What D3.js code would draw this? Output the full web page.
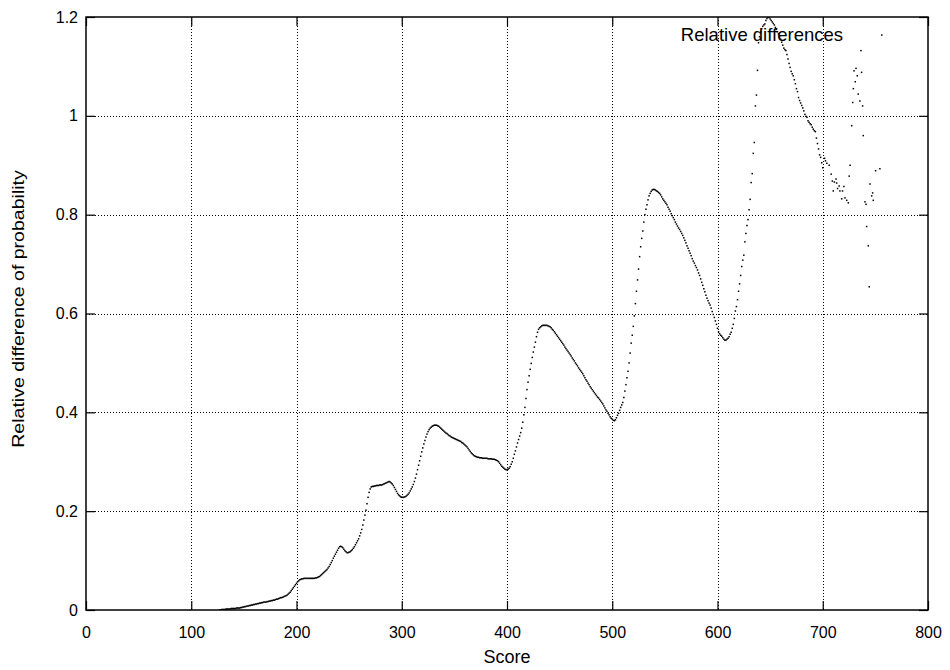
<!DOCTYPE html>
<meta charset="utf-8">
<style>

body {
  margin: 0;
  background: #fff;
}

svg {
  display: block;
  font-family: "Liberation Sans", Arial, sans-serif;
}

.grid line {
  stroke: #000;
  stroke-width: 1;
  stroke-dasharray: 1,2;
  shape-rendering: crispEdges;
}

.axis path {
  display: none;
}

.axis line {
  stroke: #000;
  stroke-width: 1.2;
}

.dot {
  fill: #000;
}

</style>
<svg width="950" height="670"></svg>
<script src="https://d3js.org/d3.v7.min.js"></script>
<script>

// one value per integer score, starting at firstScore
var firstScore = 127;
var values = [
  0.000,0.000,0.001,0.001,0.001,0.001,0.002,0.002,0.002,0.002,0.002,0.003,0.003,0.003,0.003,0.003,0.004,0.004,0.004,0.004,
  0.005,0.005,0.006,0.006,0.007,0.007,0.008,0.008,0.009,0.009,0.010,0.010,0.011,0.011,0.012,0.012,0.013,0.013,0.014,0.014,
  0.015,0.015,0.016,0.016,0.016,0.017,0.017,0.018,0.018,0.019,0.019,0.020,0.020,0.021,0.022,0.022,0.023,0.024,0.025,0.025,
  0.026,0.027,0.028,0.029,0.030,0.032,0.034,0.036,0.039,0.042,0.045,0.048,0.051,0.054,0.057,0.059,0.061,0.062,0.063,0.063,
  0.064,0.064,0.064,0.064,0.064,0.064,0.064,0.064,0.064,0.064,0.064,0.065,0.065,0.066,0.067,0.068,0.070,0.072,0.074,0.076,
  0.078,0.080,0.082,0.085,0.088,0.092,0.096,0.100,0.105,0.109,0.113,0.117,0.121,0.125,0.128,0.129,0.128,0.126,0.123,0.120,
  0.118,0.116,0.116,0.117,0.118,0.120,0.122,0.125,0.128,0.132,0.136,0.140,0.144,0.150,0.156,0.163,0.172,0.182,0.192,0.202,
  0.215,0.228,0.238,0.245,0.249,0.250,0.250,0.251,0.251,0.252,0.252,0.252,0.253,0.253,0.253,0.254,0.255,0.256,0.257,0.258,
  0.259,0.260,0.259,0.257,0.255,0.252,0.248,0.244,0.240,0.236,0.233,0.231,0.229,0.228,0.228,0.228,0.229,0.230,0.232,0.234,
  0.237,0.241,0.245,0.249,0.254,0.260,0.267,0.275,0.284,0.293,0.302,0.311,0.320,0.328,0.336,0.343,0.350,0.356,0.361,0.365,
  0.368,0.370,0.372,0.373,0.374,0.374,0.374,0.373,0.372,0.370,0.368,0.366,0.364,0.362,0.360,0.358,0.357,0.355,0.353,0.352,
  0.350,0.349,0.348,0.347,0.346,0.345,0.344,0.343,0.342,0.341,0.339,0.338,0.336,0.334,0.332,0.330,0.327,0.324,0.321,0.318,
  0.316,0.314,0.312,0.311,0.310,0.309,0.309,0.308,0.308,0.308,0.307,0.307,0.307,0.307,0.307,0.306,0.306,0.306,0.306,0.305,
  0.305,0.305,0.304,0.303,0.302,0.300,0.297,0.294,0.291,0.289,0.287,0.285,0.284,0.284,0.285,0.287,0.290,0.295,0.300,0.307,
  0.315,0.322,0.330,0.338,0.345,0.352,0.359,0.368,0.380,0.395,0.410,0.428,0.446,0.461,0.474,0.487,0.499,0.511,0.522,0.532,
  0.542,0.553,0.562,0.568,0.571,0.573,0.575,0.576,0.576,0.576,0.576,0.576,0.575,0.574,0.573,0.571,0.568,0.566,0.563,0.560,
  0.557,0.554,0.551,0.548,0.545,0.542,0.539,0.536,0.532,0.529,0.526,0.523,0.520,0.517,0.514,0.510,0.507,0.504,0.500,0.497,
  0.494,0.490,0.487,0.484,0.481,0.478,0.474,0.470,0.466,0.463,0.459,0.456,0.452,0.449,0.446,0.443,0.440,0.437,0.434,0.431,
  0.429,0.426,0.423,0.420,0.417,0.413,0.409,0.405,0.402,0.398,0.395,0.391,0.388,0.386,0.384,0.383,0.385,0.389,0.394,0.398,
  0.404,0.410,0.415,0.420,0.430,0.443,0.456,0.470,0.483,0.500,0.520,0.540,0.556,0.574,0.595,0.620,0.645,0.668,0.690,0.715,
  0.735,0.752,0.767,0.785,0.800,0.811,0.820,0.830,0.838,0.843,0.847,0.850,0.851,0.851,0.850,0.848,0.847,0.845,0.843,0.840,
  0.836,0.832,0.829,0.826,0.823,0.820,0.815,0.811,0.807,0.802,0.798,0.794,0.790,0.785,0.781,0.777,0.773,0.770,0.766,0.762,
  0.758,0.753,0.748,0.743,0.737,0.732,0.727,0.722,0.717,0.711,0.706,0.702,0.697,0.693,0.688,0.682,0.677,0.670,0.663,0.657,
  0.650,0.644,0.637,0.631,0.626,0.621,0.617,0.611,0.604,0.598,0.592,0.585,0.578,0.570,0.563,0.559,0.556,0.554,0.551,0.548,
  0.546,0.546,0.548,0.550,0.553,0.558,0.562,0.570,0.578,0.590,0.605,0.614,0.628,0.645,0.660,0.677,0.695,0.708,0.718,0.745,
  0.762,0.778,0.790,0.810,0.831,0.865,0.883,0.924,0.946,1.020,1.042,1.092,1.148,1.160,1.170,1.176,1.181,1.184,1.186,1.193,
  1.197,1.200,1.199,1.196,1.193,1.190,1.187,1.184,1.179,1.175,1.170,1.166,1.160,1.155,1.149,1.143,1.137,1.134,1.132,1.124,
  1.115,1.106,1.098,1.090,1.085,1.081,1.073,1.065,1.055,1.049,1.037,1.031,1.026,1.021,1.016,1.010,1.003,0.999,0.997,0.990,
  0.987,0.984,0.982,0.977,0.973,0.970,0.968,0.955,0.944,0.933,0.921,0.916,0.905,0.895
];

// the noisy end of the curve, read point by point
var tailScores = [
  701.7,702.6,703.9,706.1,708.0,709.1,710.0,711.0,712.6,713.2,714.1,715.6,716.3,718.0,718.8,720.1,721.1,722.8,724.3,725.1,
  726.0,727.5,728.5,729.1,729.7,730.9,731.6,732.8,733.7,735.3,736.3,736.9,737.9,738.5,740.1,741.1,741.7,743.3,744.2,744.9,
  746.5,747.4,748.0,750.2,754.3
];
var tailValues = [
  0.914,0.909,0.904,0.900,0.882,0.868,0.848,0.866,0.872,0.864,0.853,0.858,0.848,0.832,0.848,0.857,0.834,0.829,0.824,0.878,
  0.900,0.980,1.027,1.055,1.091,1.069,1.096,1.081,1.044,1.030,1.132,1.088,1.020,0.960,0.826,0.821,0.776,0.737,0.654,0.862,
  0.838,0.844,0.829,0.889,0.893
];

var xTicks = [0, 100, 200, 300, 400, 500, 600, 700, 800];
var yTicks = [0, 0.2, 0.4, 0.6, 0.8, 1, 1.2];
var xTitle = "Score";
var yTitle = "Relative difference of probability";
var keyLabel = "Relative differences";

var svg = d3.select("svg"),
    margin = {top: 17, right: 22, bottom: 60, left: 86},
    width = svg.attr("width") - margin.left - margin.right,
    height = svg.attr("height") - margin.top - margin.bottom,
    g = svg.append("g").attr("transform", "translate(" + margin.left + "," + margin.top + ")");

var x = d3.scaleLinear().domain([0, 800]).range([0, width]),
    y = d3.scaleLinear().domain([0, 1.2]).range([height, 0]);

var points = values.map(function(v, i) { return {score: firstScore + i, value: v}; })
  .concat(tailScores.map(function(s, i) { return {score: s, value: tailValues[i]}; }));

svg.append("defs").append("clipPath")
    .attr("id", "clip")
  .append("rect")
    .attr("width", width)
    .attr("height", height);

// grid
var grid = g.append("g").attr("class", "grid");

grid.selectAll(".gx")
  .data(xTicks.slice(1, -1))
  .enter().append("line")
    .attr("x1", function(d) { return Math.round(x(d)) + 0.5; })
    .attr("x2", function(d) { return Math.round(x(d)) + 0.5; })
    .attr("y1", 0)
    .attr("y2", height);

grid.selectAll(".gy")
  .data(yTicks.slice(1, -1))
  .enter().append("line")
    .attr("x1", 0)
    .attr("x2", width)
    .attr("y1", function(d) { return Math.round(y(d)) + 0.5; })
    .attr("y2", function(d) { return Math.round(y(d)) + 0.5; });

// axes with inward ticks on all four sides
g.append("g")
    .attr("class", "axis axis--x")
    .attr("transform", "translate(0," + height + ")")
    .style("font-size", "16px")
    .call(d3.axisBottom(x).tickValues(xTicks).tickSizeInner(-9).tickSizeOuter(0).tickPadding(17).tickFormat(d3.format("d")));

g.append("g")
    .attr("class", "axis")
    .call(d3.axisTop(x).tickValues(xTicks).tickSizeInner(-9).tickSizeOuter(0).tickFormat(""));

g.append("g")
    .attr("class", "axis axis--y")
    .style("font-size", "16px")
    .call(d3.axisLeft(y).tickValues(yTicks).tickSizeInner(-9).tickSizeOuter(0).tickPadding(8).tickFormat(function(d) { return d3.format("")(+d.toFixed(1)); }));

g.append("g")
    .attr("class", "axis")
    .attr("transform", "translate(" + width + ",0)")
    .call(d3.axisRight(y).tickValues(yTicks).tickSizeInner(-9).tickSizeOuter(0).tickFormat(""));

g.selectAll(".axis text")
    .style("font-family", "'Liberation Sans', Arial, sans-serif")
    .attr("fill", "#000");

// frame
g.append("rect")
    .attr("width", width)
    .attr("height", height)
    .attr("fill", "none")
    .attr("stroke", "#000")
    .attr("stroke-width", 1.5);

// data dots
g.append("g")
    .attr("clip-path", "url(#clip)")
  .selectAll(".dot")
  .data(points)
  .enter().append("rect")
    .attr("class", "dot")
    .attr("x", function(d) { return x(d.score) - 0.75; })
    .attr("y", function(d) { return y(d.value) - 0.75; })
    .attr("width", 1.5)
    .attr("height", 1.5);

// titles
svg.append("text")
    .attr("x", margin.left + width / 2)
    .attr("y", 663)
    .attr("text-anchor", "middle")
    .style("font-size", "18px")
    .text(xTitle);

svg.append("text")
    .attr("transform", "translate(24,309) rotate(-90) scale(1.15,1)")
    .attr("text-anchor", "middle")
    .style("font-size", "17px")
    .text(yTitle);

// key
svg.append("text")
    .attr("x", 843)
    .attr("y", 35)
    .attr("dy", "0.35em")
    .attr("text-anchor", "end")
    .style("font-size", "18.5px")
    .text(keyLabel);

svg.append("rect")
    .attr("class", "dot")
    .attr("x", 881)
    .attr("y", 34.3)
    .attr("width", 1.5)
    .attr("height", 1.5);

</script>
